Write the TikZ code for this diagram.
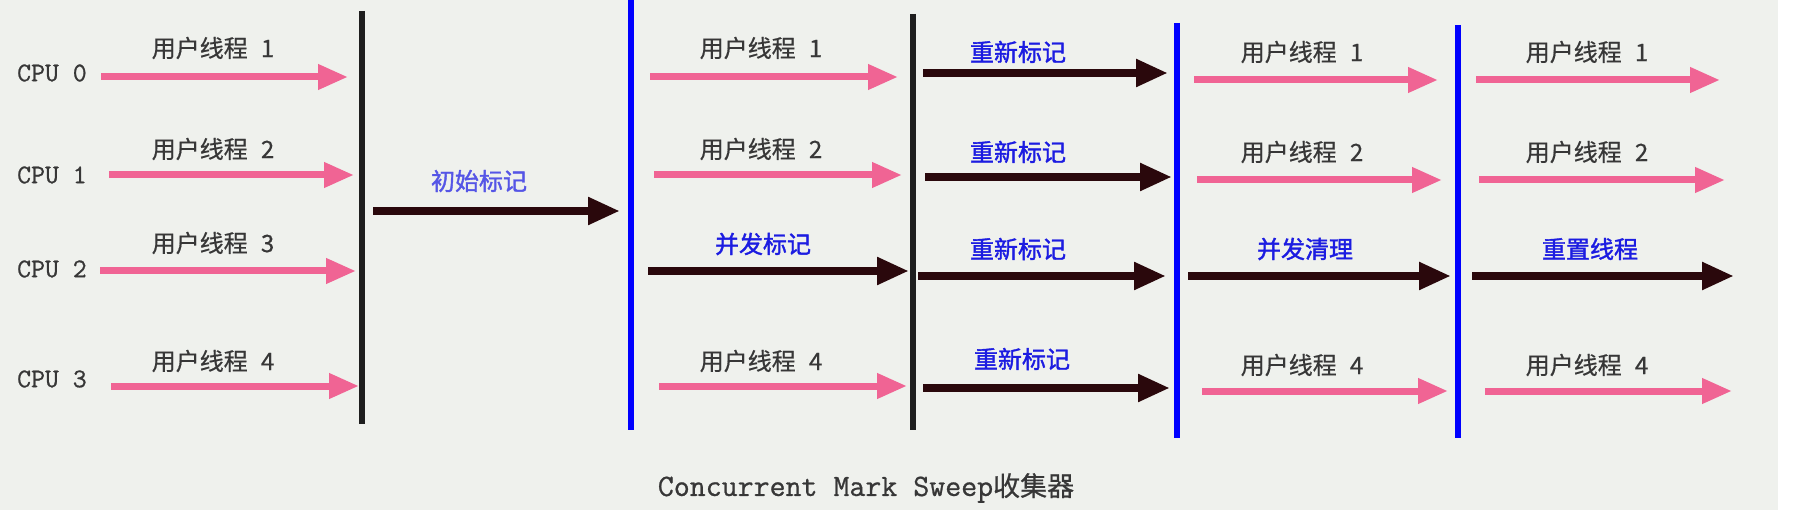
\documentclass[tikz,border=0pt]{standalone}
\usepackage{fontspec}
\setmainfont{Liberation Sans}
\newfontfamily\cjk[FakeBold=0.6]{Noto Sans CJK SC}
\newfontfamily\cjkb[FakeBold=1.5]{Noto Sans CJK SC}
\newfontfamily\monof[FakeBold=0.8]{Latin Modern Mono}
\usetikzlibrary{arrows.meta}
\definecolor{bgc}{RGB}{239,241,237}
\definecolor{pinkc}{RGB}{240,100,148}
\definecolor{darkc}{RGB}{42,8,12}
\definecolor{bluec}{RGB}{28,28,225}
\definecolor{lbluec}{RGB}{85,85,230}
\definecolor{barc}{RGB}{30,30,30}
\definecolor{greyt}{RGB}{55,55,55}
\tikzset{
  pinkarrow/.style={draw=pinkc, line width=7pt, -{Triangle[length=30pt,width=24pt]}},
  darkarrow/.style={draw=darkc, line width=8pt, -{Triangle[length=32pt,width=26pt]}},
  blackbar/.style={draw=barc, line width=6pt},
  bluebar/.style={draw=blue, line width=6pt},
  cpulabel/.style={font=\monof\fontsize{27}{30}\selectfont, text=greyt, anchor=west, inner sep=0pt},
  userlabel/.style={font=\cjk\fontsize{24}{28}\selectfont, text=greyt, inner sep=0pt},
  phaselabel/.style={font=\cjkb\fontsize{24}{28}\selectfont, text=bluec, inner sep=0pt},
  caption/.style={font=\monof\fontsize{31}{34}\selectfont, text=greyt, inner sep=0pt}
}
\newcommand{\ut}[1]{用户线程\hspace{0.55em}#1}
\begin{document}
\begin{tikzpicture}[x=1pt,y=-1pt]
\useasboundingbox (0,0) rectangle (1798,510);
\fill[white] (0,0) rectangle (1798,510);
\fill[bgc] (0,0) rectangle (1778,510);

% CPU labels
\node[cpulabel] (cpu0) at (17,73) {CPU 0};
\node[cpulabel] (cpu1) at (17,175) {CPU 1};
\node[cpulabel] (cpu2) at (17,269) {CPU 2};
\node[cpulabel] (cpu3) at (17,379) {CPU 3};

% vertical bars
\coordinate (b1t) at (362,11);  \coordinate (b1b) at (362,424);
\coordinate (b2t) at (631,0);   \coordinate (b2b) at (631,430);
\coordinate (b3t) at (913,14);  \coordinate (b3b) at (913,430);
\coordinate (b4t) at (1177,23); \coordinate (b4b) at (1177,438);
\coordinate (b5t) at (1458,25); \coordinate (b5b) at (1458,438);
\draw[blackbar] (b1t) -- (b1b);
\draw[bluebar]  (b2t) -- (b2b);
\draw[blackbar] (b3t) -- (b3b);
\draw[bluebar]  (b4t) -- (b4b);
\draw[bluebar]  (b5t) -- (b5b);

% column 1
\coordinate (a1s) at (101,77);  \coordinate (a1e) at (348,77);
\coordinate (a2s) at (109,175); \coordinate (a2e) at (354,175);
\coordinate (a3s) at (100,271); \coordinate (a3e) at (356,271);
\coordinate (a4s) at (111,386); \coordinate (a4e) at (359,386);
\draw[pinkarrow] (a1s) -- (a1e);
\draw[pinkarrow] (a2s) -- (a2e);
\draw[pinkarrow] (a3s) -- (a3e);
\draw[pinkarrow] (a4s) -- (a4e);
\node[userlabel] (l11) at (213,48) {\ut{1}};
\node[userlabel] (l12) at (213,149) {\ut{2}};
\node[userlabel] (l13) at (213,243) {\ut{3}};
\node[userlabel] (l14) at (213,361) {\ut{4}};

% column 2: initial mark
\coordinate (ims) at (373,211); \coordinate (ime) at (620,211);
\draw[darkarrow] (ims) -- (ime);
\node[phaselabel, text=lbluec] (im) at (479,181) {初始标记};

% column 3
\coordinate (c1s) at (650,77);  \coordinate (c1e) at (898,77);
\coordinate (c2s) at (654,175); \coordinate (c2e) at (902,175);
\coordinate (c3s) at (648,271); \coordinate (c3e) at (909,271);
\coordinate (c4s) at (659,386); \coordinate (c4e) at (907,386);
\draw[pinkarrow] (c1s) -- (c1e);
\draw[pinkarrow] (c2s) -- (c2e);
\draw[darkarrow] (c3s) -- (c3e);
\draw[pinkarrow] (c4s) -- (c4e);
\node[userlabel] (l31) at (761,48) {\ut{1}};
\node[userlabel] (l32) at (761,149) {\ut{2}};
\node[phaselabel] (cm) at (763,244) {并发标记};
\node[userlabel] (l34) at (761,361) {\ut{4}};

% column 4: remark
\coordinate (r1s) at (923,73);  \coordinate (r1e) at (1168,73);
\coordinate (r2s) at (925,177); \coordinate (r2e) at (1172,177);
\coordinate (r3s) at (918,276); \coordinate (r3e) at (1166,276);
\coordinate (r4s) at (923,388); \coordinate (r4e) at (1170,388);
\draw[darkarrow] (r1s) -- (r1e);
\draw[darkarrow] (r2s) -- (r2e);
\draw[darkarrow] (r3s) -- (r3e);
\draw[darkarrow] (r4s) -- (r4e);
\node[phaselabel] (rm1) at (1018,52) {重新标记};
\node[phaselabel] (rm2) at (1018,152) {重新标记};
\node[phaselabel] (rm3) at (1018,249) {重新标记};
\node[phaselabel] (rm4) at (1022,359) {重新标记};

% column 5
\coordinate (d1s) at (1194,80);  \coordinate (d1e) at (1438,80);
\coordinate (d2s) at (1197,180); \coordinate (d2e) at (1442,180);
\coordinate (d3s) at (1188,276); \coordinate (d3e) at (1451,276);
\coordinate (d4s) at (1202,391); \coordinate (d4e) at (1448,391);
\draw[pinkarrow] (d1s) -- (d1e);
\draw[pinkarrow] (d2s) -- (d2e);
\draw[darkarrow] (d3s) -- (d3e);
\draw[pinkarrow] (d4s) -- (d4e);
\node[userlabel] (l51) at (1302,52) {\ut{1}};
\node[userlabel] (l52) at (1302,152) {\ut{2}};
\node[phaselabel] (cs) at (1305,249) {并发清理};
\node[userlabel] (l54) at (1302,365) {\ut{4}};

% column 6
\coordinate (e1s) at (1476,80);  \coordinate (e1e) at (1720,80);
\coordinate (e2s) at (1479,180); \coordinate (e2e) at (1725,180);
\coordinate (e3s) at (1472,276); \coordinate (e3e) at (1734,276);
\coordinate (e4s) at (1485,391); \coordinate (e4e) at (1732,391);
\draw[pinkarrow] (e1s) -- (e1e);
\draw[pinkarrow] (e2s) -- (e2e);
\draw[darkarrow] (e3s) -- (e3e);
\draw[pinkarrow] (e4s) -- (e4e);
\node[userlabel] (l61) at (1587,52) {\ut{1}};
\node[userlabel] (l62) at (1587,152) {\ut{2}};
\node[phaselabel] (rt) at (1590,249) {重置线程};
\node[userlabel] (l64) at (1587,365) {\ut{4}};

% caption
\node[caption] (cap) at (866,488) {Concurrent Mark Sweep{\cjk\fontsize{27}{30}\selectfont 收集器}};
\end{tikzpicture}
\end{document}
